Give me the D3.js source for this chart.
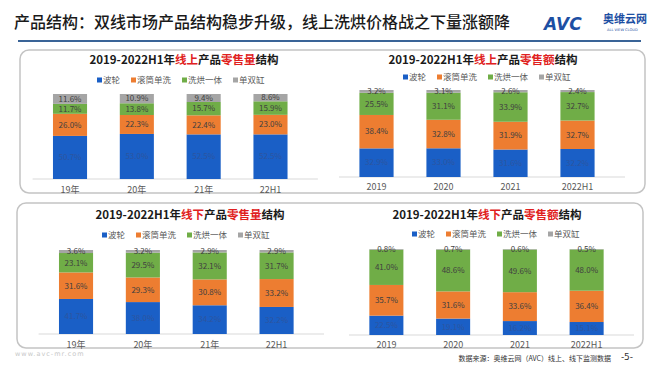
<!DOCTYPE html>
<html>
<head>
<meta charset="utf-8">
<script src="https://cdn.jsdelivr.net/npm/d3@7"></script>
<style>
  html, body { margin: 0; padding: 0; background: #fff; }
  svg { display: block; font-family: "Noto Sans CJK SC", "Noto Sans", sans-serif; }
</style>
</head>
<body>
<svg id="chart" width="660" height="372"></svg>
<script>
// categories
const yearsShort = ["19年", "20年", "21年", "22H1"];
const yearsLong = ["2019", "2020", "2021", "2022H1"];
const seriesNames = ["波轮", "滚筒单洗", "洗烘一体", "单双缸"];
const seriesColors = ["#1a5fc6", "#ed7d31", "#70ad47", "#a5a5a5"];

// shares in %, one row per series (波轮, 滚筒单洗, 洗烘一体, 单双缸)
const onlineVolume = [
  [50.7, 53.0, 52.5, 52.5],
  [26.0, 22.3, 22.4, 23.0],
  [11.7, 13.8, 15.7, 15.9],
  [11.6, 10.9, 9.4, 8.6]
];
const onlineAmount = [
  [32.9, 33.0, 31.6, 32.2],
  [38.4, 32.8, 31.9, 32.7],
  [25.5, 31.1, 33.9, 32.7],
  [3.2, 3.1, 2.6, 2.4]
];
const offlineVolume = [
  [41.7, 38.0, 34.2, 32.2],
  [31.6, 29.3, 30.8, 33.2],
  [23.1, 29.5, 32.1, 31.7],
  [3.6, 3.2, 2.9, 2.9]
];
const offlineAmount = [
  [22.5, 19.1, 16.2, 15.1],
  [35.7, 31.6, 33.6, 36.4],
  [41.0, 48.6, 49.6, 48.0],
  [0.8, 0.7, 0.6, 0.5]
];

const svg = d3.select("#chart");

// page title
svg.append("text")
  .attr("x", 14).attr("y", 28)
  .attr("font-size", 16).attr("font-weight", 500).attr("fill", "#1a1a1a")
  .text("产品结构：双线市场产品结构稳步升级，线上洗烘价格战之下量涨额降");

svg.append("line")
  .attr("x1", 18).attr("x2", 641).attr("y1", 41).attr("y2", 41)
  .attr("stroke", "#3a6497").attr("stroke-width", 2);

// logo
svg.append("text")
  .attr("x", 544).attr("y", 30)
  .attr("font-family", "DejaVu Sans").attr("font-size", 17).attr("font-weight", "bold")
  .attr("font-style", "italic").attr("fill", "#1d4fa3")
  .text("AVC");
svg.append("text")
  .attr("x", 603).attr("y", 23)
  .attr("font-size", 11).attr("font-weight", "bold").attr("fill", "#1d4fa3")
  .text("奥维云网");
svg.append("text")
  .attr("x", 607).attr("y", 31)
  .attr("font-family", "DejaVu Sans").attr("font-size", 3.6).attr("fill", "#1d4fa3")
  .text("ALL VIEW CLOUD");

// panel frames
svg.append("rect")
  .attr("x", 20).attr("y", 50).attr("width", 625).attr("height", 143).attr("rx", 9)
  .attr("fill", "none").attr("stroke", "#c4c4c4").attr("stroke-width", 1.5);
svg.append("rect")
  .attr("x", 17).attr("y", 203).attr("width", 626).attr("height", 145).attr("rx", 9)
  .attr("fill", "none").attr("stroke", "#c4c4c4").attr("stroke-width", 1.5);

function drawPanel(cfg) {
  const g = svg.append("g");

  // title with red keywords
  const t = g.append("text")
    .attr("x", cfg.titleX).attr("y", cfg.titleY)
    .attr("text-anchor", "middle")
    .attr("font-size", 11.5).attr("font-weight", "bold").attr("fill", "#1a1a1a");
  cfg.title.forEach(([s, red]) => {
    t.append("tspan").attr("fill", red ? "#e02020" : "#1a1a1a").text(s);
  });

  // legend
  let lx = cfg.legendX;
  seriesNames.forEach((name, i) => {
    g.append("rect")
      .attr("x", lx).attr("y", cfg.legendY - 5.5)
      .attr("width", 5).attr("height", 5)
      .attr("fill", seriesColors[i]);
    g.append("text")
      .attr("x", lx + 6).attr("y", cfg.legendY)
      .attr("font-size", 8.5).attr("fill", "#595959")
      .text(name);
    lx += 6 + name.length * 8.5 + 11;
  });

  const x = d3.scaleBand()
    .domain(cfg.cats)
    .range(cfg.xRange)
    .paddingInner(0.49)
    .paddingOuter(0.245);
  const y = d3.scaleLinear().domain([0, 100]).range(cfg.yRange);

  // stack
  const rows = cfg.cats.map((c, j) => {
    const r = { cat: c };
    seriesNames.forEach((s, i) => { r[s] = cfg.values[i][j]; });
    return r;
  });
  const stacked = d3.stack().keys(seriesNames)(rows);

  // baseline
  g.append("line")
    .attr("x1", cfg.xRange[0] - 4).attr("x2", cfg.xRange[1] + 14)
    .attr("y1", y(0)).attr("y2", y(0))
    .attr("stroke", "#d9d9d9").attr("stroke-width", 1);

  stacked.forEach((layer, i) => {
    g.selectAll(null)
      .data(layer)
      .enter()
      .append("rect")
      .attr("x", d => x(d.data.cat))
      .attr("y", d => y(d[1]))
      .attr("width", x.bandwidth())
      .attr("height", d => y(d[0]) - y(d[1]))
      .attr("fill", seriesColors[i]);

    g.selectAll(null)
      .data(layer)
      .enter()
      .append("text")
      .attr("x", d => x(d.data.cat) + x.bandwidth() / 2)
      .attr("y", d => y((d[0] + d[1]) / 2) + 2.8)
      .attr("text-anchor", "middle")
      .attr("font-size", 8)
      .attr("fill", i === 0 ? "#2c55a0" : "#404040")
      .text(d => d3.format(".1f")(d[1] - d[0]) + "%");
  });

  // category axis
  const axis = g.append("g")
    .attr("transform", `translate(0,${cfg.tickY})`)
    .call(d3.axisBottom(x).tickSize(0).tickPadding(0));
  axis.select(".domain").remove();
  axis.selectAll("text")
    .attr("font-family", "'Noto Sans CJK SC', sans-serif")
    .attr("font-size", 9).attr("fill", "#595959").attr("dy", 0);
}

drawPanel({
  title: [["2019-2022H1年", false], ["线上", true], ["产品", false], ["零售量", true], ["结构", false]],
  titleX: 184, titleY: 64,
  legendX: 97, legendY: 83,
  cats: yearsShort, values: onlineVolume,
  xRange: [36.6, 303.9], yRange: [179, 94], tickY: 193
});
drawPanel({
  title: [["2019-2022H1年", false], ["线上", true], ["产品", false], ["零售额", true], ["结构", false]],
  titleX: 483, titleY: 64,
  legendX: 403, legendY: 80,
  cats: yearsLong, values: onlineAmount,
  xRange: [343, 611], yRange: [177, 90], tickY: 190
});
drawPanel({
  title: [["2019-2022H1年", false], ["线下", true], ["产品", false], ["零售量", true], ["结构", false]],
  titleX: 190, titleY: 219,
  legendX: 102, legendY: 238,
  cats: yearsShort, values: offlineVolume,
  xRange: [42.6, 310], yRange: [334, 250], tickY: 348
});
drawPanel({
  title: [["2019-2022H1年", false], ["线下", true], ["产品", false], ["零售额", true], ["结构", false]],
  titleX: 487, titleY: 219,
  legendX: 412, legendY: 237,
  cats: yearsLong, values: offlineAmount,
  xRange: [353, 620], yRange: [335, 249], tickY: 348
});

// footer
svg.append("text")
  .attr("x", 15).attr("y", 356)
  .attr("font-family", "DejaVu Sans").attr("font-size", 6.5)
  .attr("letter-spacing", 1).attr("fill", "#c8c8c8")
  .text("www.avc-mr.com");
svg.append("text")
  .attr("x", 611).attr("y", 361)
  .attr("text-anchor", "end")
  .attr("font-size", 7).attr("fill", "#333")
  .text("数据来源：奥维云网（AVC）线上、线下监测数据");
svg.append("text")
  .attr("x", 627).attr("y", 360)
  .attr("text-anchor", "middle")
  .attr("font-family", "DejaVu Sans").attr("font-size", 9).attr("fill", "#333")
  .text("-5-");
</script>
</body>
</html>
